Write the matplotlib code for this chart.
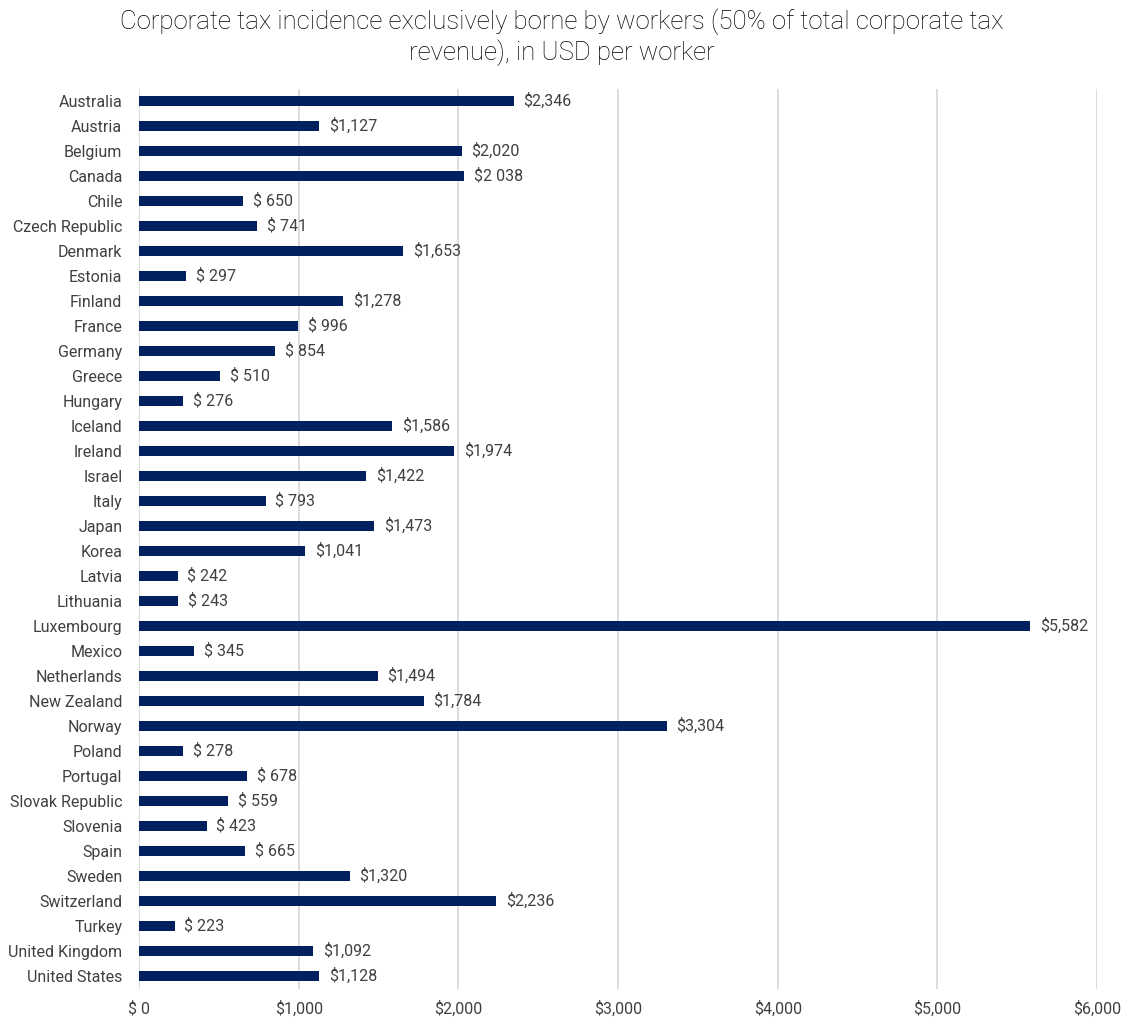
import matplotlib.pyplot as plt
from matplotlib import font_manager

countries = [
    'Australia', 'Austria', 'Belgium', 'Canada', 'Chile', 'Czech Republic',
    'Denmark', 'Estonia', 'Finland', 'France', 'Germany', 'Greece',
    'Hungary', 'Iceland', 'Ireland', 'Israel', 'Italy', 'Japan', 'Korea',
    'Latvia', 'Lithuania', 'Luxembourg', 'Mexico', 'Netherlands',
    'New Zealand', 'Norway', 'Poland', 'Portugal', 'Slovak Republic',
    'Slovenia', 'Spain', 'Sweden', 'Switzerland', 'Turkey',
    'United Kingdom', 'United States',
]
values = [
    2346, 1127, 2020, 2038, 650, 741, 1653, 297, 1278, 996, 854, 510,
    276, 1586, 1974, 1422, 793, 1473, 1041, 242, 243, 5582, 345, 1494,
    1784, 3304, 278, 678, 559, 423, 665, 1320, 2236, 223, 1092, 1128,
]
value_labels = [
    '$2,346', '$1,127', '$2,020', '$2 038', '$ 650', '$ 741', '$1,653',
    '$ 297', '$1,278', '$ 996', '$ 854', '$ 510', '$ 276', '$1,586',
    '$1,974', '$1,422', '$ 793', '$1,473', '$1,041', '$ 242', '$ 243',
    '$5,582', '$ 345', '$1,494', '$1,784', '$3,304', '$ 278', '$ 678',
    '$ 559', '$ 423', '$ 665', '$1,320', '$2,236', '$ 223', '$1,092',
    '$1,128',
]
x_ticks = [0, 1000, 2000, 3000, 4000, 5000, 6000]
x_tick_labels = ['$ 0', '$1,000', '$2,000', '$3,000', '$4,000', '$5,000', '$6,000']

installed = {f.name for f in font_manager.fontManager.ttflist}
family = [f for f in ['Liberation Sans Narrow', 'Roboto', 'DejaVu Sans'] if f in installed]
plt.rcParams['font.family'] = family

bar_color = '#002060'
text_color = '#404040'

fig = plt.figure(figsize=(11.24, 10.19), dpi=100)
ax = fig.add_axes([0.1237, 0.0299, 0.8523, 0.8832])

y = list(range(len(countries)))
ax.barh(y, values, height=0.4, color=bar_color, zorder=3)

for yi, v, lab in zip(y, values, value_labels):
    ax.annotate(lab, (v, yi), xytext=(7, 0), textcoords='offset points',
                va='center', ha='left', fontsize=11.5, color=text_color)

ax.set_xlim(0, 6000)
ax.set_ylim(len(countries) - 0.5, -0.5)
ax.set_yticks(y)
ax.set_yticklabels(countries, fontsize=11.5, color=text_color)
ax.set_xticks(x_ticks)
ax.set_xticklabels(x_tick_labels, fontsize=11.5, color=text_color)
ax.tick_params(axis='both', length=0)
ax.tick_params(axis='x', pad=9)
ax.tick_params(axis='y', pad=12)
ax.grid(axis='x', color='#d9d9d9', linewidth=1.3, zorder=0)
for s in ax.spines.values():
    s.set_visible(False)

fig.suptitle('Corporate tax incidence exclusively borne by workers (50% of total corporate tax\nrevenue), in USD per worker',
             fontsize=18.5, color='#000000', y=0.992, linespacing=1.25,
             fontweight='light')

fig.savefig('out.png', dpi=100)
